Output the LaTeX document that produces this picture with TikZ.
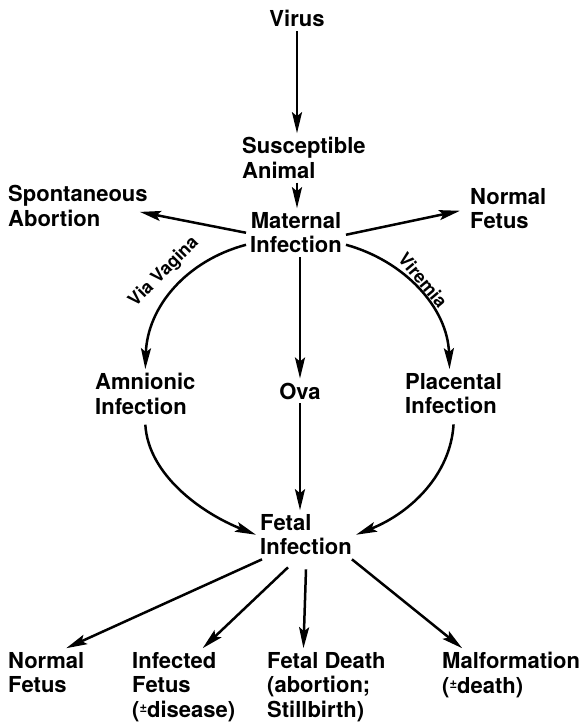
\documentclass[tikz,border=0pt]{standalone}
\usepackage{fontspec}
\setmainfont{TeX Gyre Heros}
\usetikzlibrary{arrows.meta,positioning}
\newcommand{\plusmin}{{\fontsize{13}{13}\selectfont\raisebox{5pt}{±}}}
\tikzset{
  lbl/.style={font=\fontsize{22}{24.5}\selectfont\bfseries, align=left, inner sep=4pt, anchor=north west},
  via/.style={font=\fontsize{18}{20}\selectfont\bfseries, inner sep=1pt},
  flow/.style={-{Stealth[length=21pt,width=10pt,inset=4pt]}, line width=2.5pt}
}

\begin{document}
\begin{tikzpicture}[x=1pt, y=-1pt]
  \useasboundingbox (0,0) rectangle (582,722);
  % top chain
  \node[lbl, anchor=base] (virus) at (297,27) {Virus};
  \node[lbl] (host) at (238,133.2) {Susceptible\\Animal};
  \node[lbl, align=center, anchor=north] (maternal) at (296,208.2) {Maternal\\Infection};
  \node[lbl] (abort) at (4,181.2) {Spontaneous\\Abortion};
  \node[lbl] (normtop) at (466,184.2) {Normal\\Fetus};
  % middle routes
  \node[lbl] (amnion) at (91,369.2) {Amnionic\\Infection};
  \node[lbl, anchor=base] (ova) at (300,399) {Ova};
  \node[lbl] (placenta) at (401,369.2) {Placental\\Infection};
  \node[lbl] (fetal) at (256,510.2) {Fetal\\Infection};
  % outcomes
  \node[lbl] (normal) at (4,648.2) {Normal\\Fetus};
  \node[lbl] (infected) at (128,648.2) {Infected\\Fetus\\(\plusmin disease)};
  \node[lbl] (death) at (263,648.2) {Fetal Death\\(abortion;\\Stillbirth)};
  \node[lbl] (malform) at (438,648.2) {Malformation\\(\plusmin death)};

  \node[via, rotate=45] (vv) at (164,272) {Via Vagina};
  \node[via, rotate=-50] (vir) at (423,280) {Viremia};

  \draw[flow] (virus) -- (virus |- host.north);
  \draw[flow] (virus |- host.south) -- (virus |- maternal.north);
  \draw[flow] (maternal.west) -- ([xshift=-12pt,yshift=-6pt]abort.east);
  \draw[flow] ([yshift=-2pt]maternal.east) -- ([xshift=-6pt,yshift=-2pt]normtop.west);
  \draw[flow] (ova |- maternal.south) -- (ova);
  \draw[flow] ([yshift=-12pt]maternal.west) .. controls +(-60,16) and +(2,-62) .. (amnion.north);
  \draw[flow] ([yshift=-12pt]maternal.east) .. controls +(58,16) and +(-2,-62) .. ([xshift=-4pt]placenta.north);
  \draw[flow] (ova) -- (ova |- fetal.north);
  \draw[flow] ([yshift=-6pt]amnion.south) .. controls +(3,50) and +(-55,-22) .. (fetal.west);
  \draw[flow] ([yshift=-6pt]placenta.south) .. controls +(-3,50) and +(55,-22) .. (fetal.east);
  % outcomes
  \draw[flow] ([xshift=6pt]fetal.south west) -- ([xshift=20pt]normal.north);
  \draw[flow] ([xshift=32pt,yshift=-8pt]fetal.south west) -- ([xshift=19pt]infected.north);
  \draw[flow] ([xshift=50pt,yshift=-10pt]fetal.south west) -- ([xshift=-23pt]death.north);
  \draw[flow] ([xshift=-4pt]fetal.south east) -- ([xshift=-49pt]malform.north);
\end{tikzpicture}
\end{document}
